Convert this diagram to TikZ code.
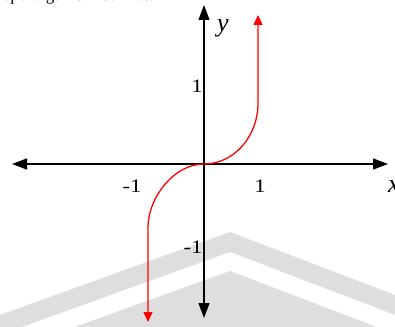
\documentclass[tikz,border=0pt]{standalone}
\usepackage{fontspec}
\setmainfont{Liberation Serif}
\usetikzlibrary{arrows.meta}
\begin{document}
\begin{tikzpicture}[x=1pt,y=-1pt,
  axis/.style={line width=1.3pt, {Triangle[length=15pt,width=11pt]}-{Triangle[length=15pt,width=11pt]}},
  curve/.style={red, line width=1.3pt, {Triangle[length=10pt,width=9pt]}-{Triangle[length=10pt,width=9pt]}},
  num/.style={inner sep=0pt, xscale=1.2, font=\fontsize{19}{19}\selectfont},
  axlabel/.style={inner sep=0pt, font=\fontsize{26}{26}\selectfont\itshape},
  band/.style={fill=black!13}]
\useasboundingbox (0,0) rectangle (395,326);
\fill[white] (0,0) rectangle (395,326);
\begin{scope}
\clip (0,0) rectangle (395,326);
\fill[band] (0,315) -- (230,232) -- (395,295) -- (395,340) -- (0,340) -- cycle;
\fill[white] (0,335) -- (230,252) -- (395,315) -- (395,360) -- (0,360) -- cycle;
\fill[band] (0,354) -- (230,271) -- (395,334) -- (395,380) -- (0,380) -- cycle;
\end{scope}
\node[anchor=base west, inner sep=0pt, font=\fontsize{17}{17}\selectfont] (top) at (-4,1) {seperti gambar berikut:};
\coordinate (O) at (204,164);
\coordinate (xl) at (12,164);
\coordinate (xr) at (388,164);
\coordinate (yt) at (204,5);
\coordinate (yb) at (204,318);
\draw[axis] (xl) -- (xr);
\draw[axis] (yb) -- (yt);
\coordinate (cb) at (148,322);
\coordinate (c1) at (148,227);
\coordinate (c2) at (258,103);
\coordinate (ct) at (258,15);
\draw[curve] (cb) -- (c1) .. controls (148,198.8) and (173.1,164) .. (O) .. controls (233.8,164) and (258,136.7) .. (c2) -- (ct);
\node[axlabel] (ylab) at (223,28) {y};
\node[axlabel] (xlab) at (394,187) {x};
\node[num] (xm1) at (132,186) {-1};
\node[num] (xp1) at (260,186) {1};
\node[num] (yp1) at (197,86) {1};
\node[num] (ym1) at (193,247) {-1};
\end{tikzpicture}
\end{document}
